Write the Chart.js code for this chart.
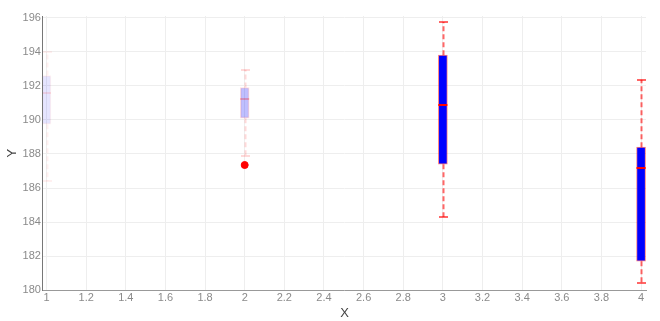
<!DOCTYPE html>
<html>
<head>
<meta charset="utf-8">
<script src="https://cdn.jsdelivr.net/npm/chart.js@4.4.1/dist/chart.umd.min.js"></script>
<style>
  html, body { margin: 0; padding: 0; background: #fff; }
  #wrap { width: 660px; height: 321px; }
</style>
</head>
<body>
<div id="wrap"><canvas id="c" width="660" height="321"></canvas></div>
<script>
// ---- data ----
const xs          = [1, 2, 3, 4];
const whiskerLow  = [186.4, 187.9, 184.3, 180.4];
const q1          = [189.75, 190.1, 187.4, 181.7];
const medians     = [191.6, 191.2, 190.85, 187.2];
const q3          = [192.6, 191.9, 193.8, 188.4];
const whiskerHigh = [194.0, 192.95, 195.75, 192.35];
const boxOpacity  = [0.1, 0.25, 1, 1];
const outlierX    = [2];
const outlierY    = [187.35];
const xTicks = [1, 1.2, 1.4, 1.6, 1.8, 2, 2.2, 2.4, 2.6, 2.8, 3, 3.2, 3.4, 3.6, 3.8, 4];
const yTicks = [180, 182, 184, 186, 188, 190, 192, 194, 196];

const BOX_W = 9;

const boxData = xs.map((x, i) => ({ x: x, y: [q1[i], q3[i]] }));
const outlierData = outlierX.map((x, i) => ({ x: x, y: outlierY[i] }));

const whiskerPlugin = {
  id: 'whiskers',
  beforeDatasetsDraw(chart) {
    const { ctx, chartArea, scales: { x, y } } = chart;
    ctx.save();
    ctx.beginPath();
    ctx.rect(chartArea.left, chartArea.top, chartArea.right - chartArea.left, chartArea.bottom - chartArea.top);
    ctx.clip();
    xs.forEach((xv, i) => {
      const a = boxOpacity[i];
      const px = Math.round(x.getPixelForValue(xv)) + 0.5;
      const col = `rgba(255,0,0,${0.6 * a})`;
      ctx.strokeStyle = col;
      ctx.lineWidth = 2;
      ctx.setLineDash([5, 3]);
      ctx.beginPath();
      ctx.moveTo(px, y.getPixelForValue(q3[i]));
      ctx.lineTo(px, y.getPixelForValue(whiskerHigh[i]));
      ctx.moveTo(px, y.getPixelForValue(q1[i]));
      ctx.lineTo(px, y.getPixelForValue(whiskerLow[i]));
      ctx.stroke();
      ctx.setLineDash([]);
      ctx.beginPath();
      [whiskerHigh[i], whiskerLow[i]].forEach(v => {
        const py = Math.round(y.getPixelForValue(v));
        ctx.moveTo(px - BOX_W / 2, py);
        ctx.lineTo(px + BOX_W / 2, py);
      });
      ctx.stroke();
    });
    ctx.restore();
  },
  afterDatasetsDraw(chart) {
    const { ctx, chartArea, scales: { x, y } } = chart;
    ctx.save();
    ctx.beginPath();
    ctx.rect(chartArea.left, chartArea.top, chartArea.right - chartArea.left, chartArea.bottom - chartArea.top);
    ctx.clip();
    xs.forEach((xv, i) => {
      const a = boxOpacity[i];
      const px = x.getPixelForValue(xv);
      const py = Math.round(y.getPixelForValue(medians[i]));
      ctx.strokeStyle = `rgba(255,0,0,${a})`;
      ctx.lineWidth = 2;
      ctx.beginPath();
      ctx.moveTo(px - BOX_W / 2, py);
      ctx.lineTo(px + BOX_W / 2, py);
      ctx.stroke();
    });
    ctx.restore();
  }
};

const tickFont = { family: 'Liberation Sans, Arial, sans-serif', size: 11 };
const titleFont = { family: 'Liberation Sans, Arial, sans-serif', size: 13 };

new Chart(document.getElementById('c'), {
  type: 'bar',
  data: {
    datasets: [
      {
        type: 'bar',
        data: boxData,
        backgroundColor: boxOpacity.map(a => `rgba(0,0,255,${a})`),
        borderColor: boxOpacity.map(a => `rgba(255,0,0,${0.5 * a})`),
        borderWidth: 1,
        borderSkipped: false,
        barThickness: BOX_W,
        grouped: false
      },
      {
        type: 'scatter',
        data: outlierData,
        backgroundColor: 'rgb(255,0,0)',
        borderColor: 'rgb(255,0,0)',
        pointRadius: 3.5,
        pointHoverRadius: 3.5
      }
    ]
  },
  options: {
    responsive: false,
    animation: false,
    events: [],
    layout: { padding: { top: 16, right: 14, bottom: 0, left: 5 } },
    plugins: { legend: { display: false }, tooltip: { enabled: false } },
    scales: {
      x: {
        type: 'linear',
        offset: false,
        min: 0.982,
        max: 4.025,
        afterBuildTicks: s => { s.ticks = xTicks.map(v => ({ value: v })); },
        ticks: { color: '#8a8a8a', font: tickFont, padding: 1, maxRotation: 0, autoSkip: false,
                 callback: v => String(Math.round(v * 10) / 10) },
        grid: { color: '#eeeeee', drawTicks: false, offset: false },
        border: { color: '#999999' },
        title: { display: true, text: 'X', color: '#444', font: titleFont, padding: { top: 0, bottom: 0 } }
      },
      y: {
        type: 'linear',
        min: 180,
        max: 196.1,
        afterBuildTicks: s => { s.ticks = yTicks.map(v => ({ value: v })); },
        ticks: { color: '#8a8a8a', font: tickFont, padding: 2, autoSkip: false },
        grid: { color: '#eeeeee', drawTicks: false },
        border: { color: '#777777' },
        title: { display: true, text: 'Y', color: '#444', font: titleFont, padding: { top: 0, bottom: 0 } }
      }
    }
  },
  plugins: [whiskerPlugin]
});
</script>
</body>
</html>
